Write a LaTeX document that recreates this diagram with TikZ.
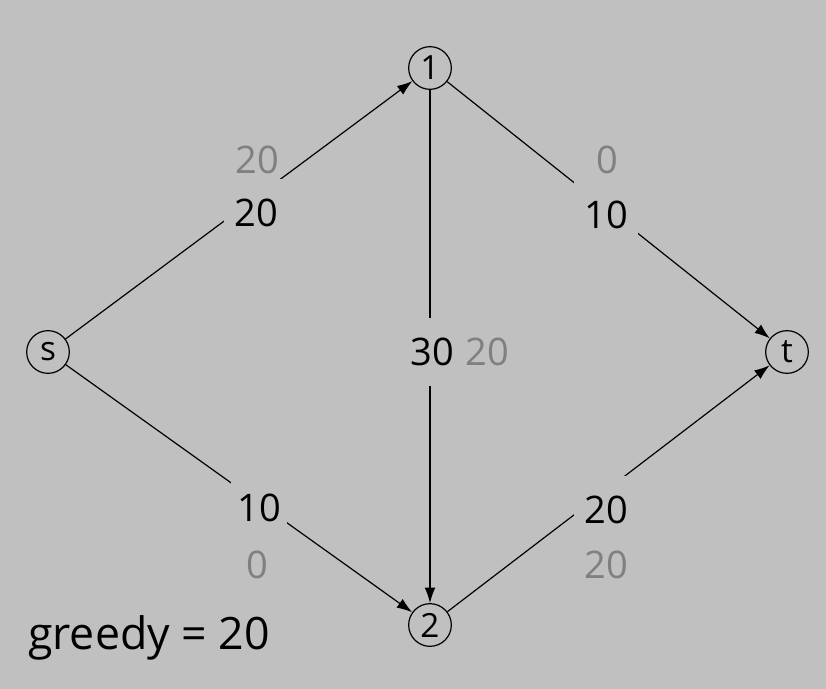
\documentclass[tikz,border=0pt]{standalone}
\usepackage{fontspec}
\setmainfont{Open Sans}
\usetikzlibrary{arrows.meta}
\definecolor{bg}{HTML}{C0C0C0}
\definecolor{fg}{HTML}{808080}
\tikzset{
  vtx/.style={circle,draw=black,line width=0.9pt,minimum size=32pt,inner sep=0pt,font=\fontsize{25}{26}\selectfont},
  edge/.style={line width=0.9pt,-{Latex[length=11.5pt,width=8pt]}},
  caplbl/.style={fill=bg,inner xsep=8pt,inner ysep=15pt,font=\fontsize{28.5}{30}\selectfont},
  flow/.style={text=fg,inner sep=0pt,font=\fontsize{28.5}{30}\selectfont},
}
\begin{document}
\begin{tikzpicture}[x=0.75pt,y=-0.75pt]
\fill[bg] (0,0) rectangle (826,689);
\useasboundingbox (0,0) rectangle (826,689);
\node[vtx] (s) at (48,352) {s};
\node[vtx] (n1) at (430,68) {1};
\node[vtx] (n2) at (430,625) {2};
\node[vtx] (t) at (787,352) {t};
\draw[edge] (s) -- (n1);
\draw[edge] (n1) -- (t);
\draw[edge] (n1) -- (n2);
\draw[edge] (s) -- (n2);
\draw[edge] (n2) -- (t);
\node[caplbl] (c1) at (256,213) {20};
\node[caplbl] (c2) at (606,215) {10};
\node[caplbl] (c3) at (432,352) {30};
\node[caplbl,inner ysep=10pt,inner xsep=5pt] (c4) at (259,508) {10};
\node[caplbl] (c5) at (606,510) {20};
\node[flow] (f1) at (257,160) {20};
\node[flow] (f2) at (607,160) {0};
\node[flow] (f3) at (487,352) {20};
\node[flow] (f4) at (257,565) {0};
\node[flow] (f5) at (606,565) {20};
\node[font=\fontsize{33.5}{35}\selectfont,inner sep=0pt] (g) at (149,638) {greedy = 20};
\end{tikzpicture}
\end{document}
